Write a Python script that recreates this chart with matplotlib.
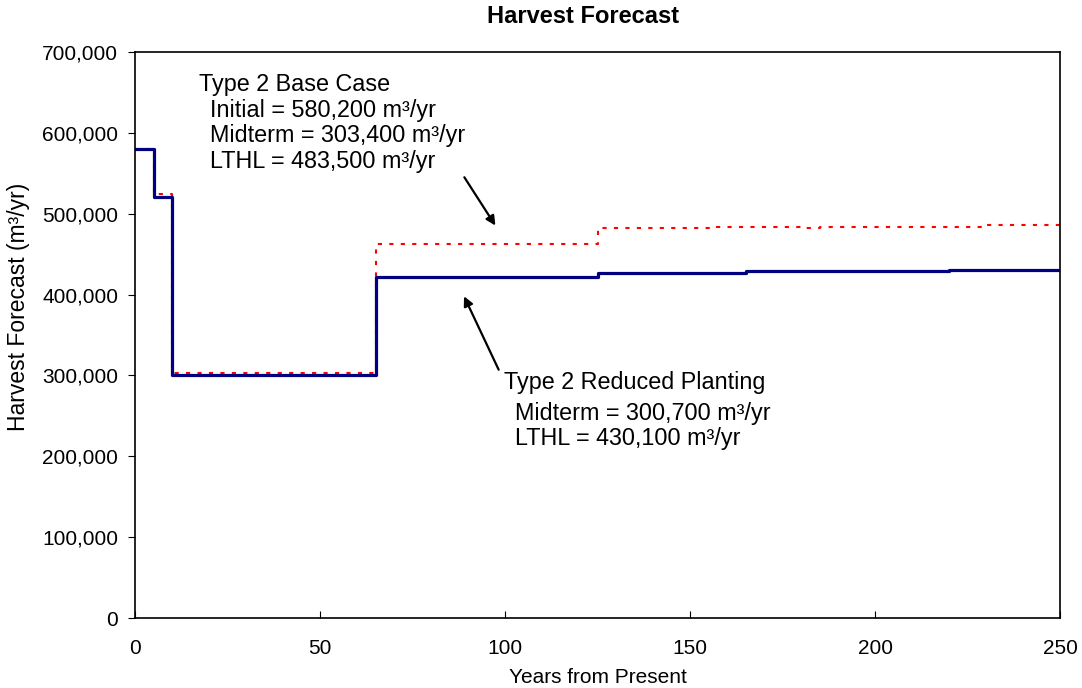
import matplotlib.pyplot as plt
from matplotlib.ticker import FuncFormatter

plt.rcParams["font.family"] = ["Liberation Sans", "DejaVu Sans"]

# step start years and harvest levels (m3/yr), last point closes the step at 250
reduced_years = [0, 5, 10, 65, 125, 165, 220, 250]
reduced_harvest = [580200, 521000, 300700, 422000, 427300, 428800, 430100, 430100]

base_years = [0, 5, 10, 65, 125, 155, 180, 185, 230, 250]
base_harvest = [580200, 524500, 303400, 462700, 482600, 483800, 482500, 483800, 486300, 486300]

base_text = ["Type 2 Base Case", "Initial = 580,200 m³/yr",
             "Midterm = 303,400 m³/yr", "LTHL = 483,500 m³/yr"]
reduced_text = ["Type 2 Reduced Planting", "Midterm = 300,700 m³/yr",
                "LTHL = 430,100 m³/yr"]

fig = plt.figure(figsize=(10.82, 6.88), dpi=100)
ax = fig.add_axes([0.1248, 0.1017, 0.8549, 0.8227])

ax.step(base_years, base_harvest, where="post", color="#ff0000",
        lw=1.5, dashes=(2, 3.5))
ax.step(reduced_years, reduced_harvest, where="post", color="#000080", lw=2.3)

ax.set_xlim(0, 250)
ax.set_ylim(0, 700000)
ax.set_xticks([0, 50, 100, 150, 200, 250])
ax.set_yticks(range(0, 700001, 100000))
ax.yaxis.set_major_formatter(FuncFormatter(lambda v, p: f"{int(v):,}"))
ax.tick_params(axis="x", direction="in", length=5, pad=15, labelsize=15)
ax.tick_params(axis="y", direction="out", length=5, pad=7, labelsize=15)
for s in ax.spines.values():
    s.set_linewidth(1.2)

ax.set_title("Harvest Forecast", fontsize=17, fontweight="bold", pad=21, x=0.484)
ax.set_xlabel("Years from Present", fontsize=15, labelpad=7)
ax.set_ylabel("Harvest Forecast (m³/yr)", fontsize=16.5, labelpad=9)
ax.yaxis.label.set_y(0.55)

# annotation blocks
ax.text(17.2, 660000, base_text[0], fontsize=16.8, va="center")
for i, t in enumerate(base_text[1:]):
    ax.text(20.3, 628000 - i * 31800, t, fontsize=16.8, va="center")
ax.text(99.7, 291000, reduced_text[0], fontsize=16.8, va="center")
for i, t in enumerate(reduced_text[1:]):
    ax.text(102.7, 253500 - i * 31200, t, fontsize=16.8, va="center")

arrow = dict(arrowstyle="-|>", color="black", lw=1.6, mutation_scale=14)
ax.annotate("", xy=(97.8, 482500), xytext=(88.6, 548000), arrowprops=arrow)
ax.annotate("", xy=(88.6, 401000), xytext=(98.6, 304000), arrowprops=arrow)

fig.savefig("out.png", dpi=100, facecolor="white")
